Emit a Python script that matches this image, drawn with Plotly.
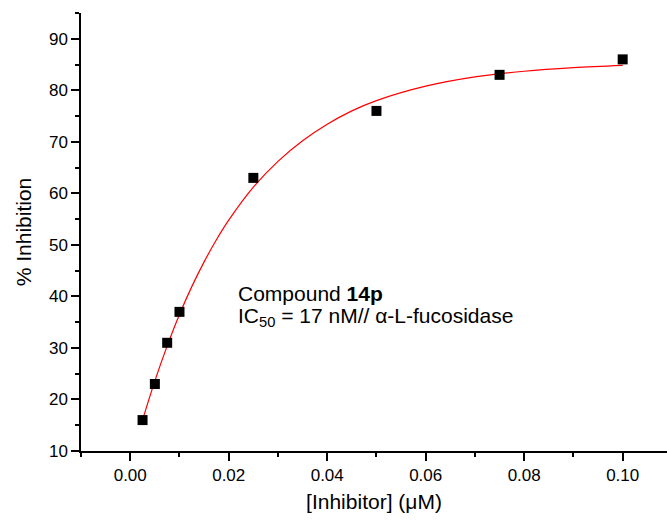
import plotly.graph_objects as go

# measured data
conc = [0.0025, 0.005, 0.0075, 0.01, 0.025, 0.05, 0.075, 0.1]
inhib = [16, 23, 31, 37, 63, 76, 83, 86]

# fitted curve
fit_x = [0.0025, 0.005, 0.0075, 0.01, 0.0125, 0.015, 0.0175, 0.02, 0.025, 0.03,
         0.035, 0.04, 0.045, 0.05, 0.06, 0.07, 0.08, 0.09, 0.1]
fit_y = [16.0, 23.6, 30.4, 36.5, 41.9, 46.7, 51.0, 54.8, 61.2, 66.2,
         70.2, 73.4, 76.0, 78.0, 80.8, 82.6, 83.7, 84.4, 84.85]

x_ticks = [0.00, 0.02, 0.04, 0.06, 0.08, 0.10]
x_ticklabels = ["0.00", "0.02", "0.04", "0.06", "0.08", "0.10"]
y_ticks = [10, 20, 30, 40, 50, 60, 70, 80, 90]

FONT = "Liberation Sans, Arial, sans-serif"

fig = go.Figure()
fig.add_trace(go.Scatter(x=fit_x, y=fit_y, mode="lines", line=dict(color="red", width=1.2, shape="spline"),
                         hoverinfo="skip", showlegend=False))
fig.add_trace(go.Scatter(x=conc, y=inhib, mode="markers",
                         marker=dict(symbol="square", size=10, color="black", line=dict(width=0)),
                         showlegend=False))

fig.add_annotation(x=0.0215, y=40.6, xref="x", yref="y", xanchor="left", yanchor="middle",
                   text="Compound <b>14p</b>", showarrow=False,
                   font=dict(family=FONT, size=21, color="black"))
fig.add_annotation(x=0.0215, y=36.1, xref="x", yref="y", xanchor="left", yanchor="middle",
                   text="IC<sub>50</sub> = 17 nM// α-L-fucosidase", showarrow=False,
                   font=dict(family=FONT, size=21, color="black"))

axis_common = dict(showline=True, linecolor="black", linewidth=1.5, ticks="outside",
                   ticklen=8, tickwidth=1.5, tickcolor="black", showgrid=False, zeroline=False,
                   tickfont=dict(family=FONT, size=17, color="black"),
                   title_font=dict(family=FONT, size=21, color="black"))

fig.update_xaxes(range=[-0.01, 0.109], tickvals=x_ticks, ticktext=x_ticklabels,
                 minor=dict(ticks="outside", ticklen=4, tickwidth=1.5, dtick=0.01, tick0=-0.01, tickcolor="black"),
                 title_text="[Inhibitor] (μM)", title_standoff=10, **axis_common)
fig.update_yaxes(range=[10, 95], tickvals=y_ticks,
                 minor=dict(ticks="outside", ticklen=4, tickwidth=1.5, dtick=5, tick0=10, tickcolor="black"),
                 title_text="% Inhibition", title_standoff=12, **axis_common)

fig.update_layout(width=667, height=523, margin=dict(l=81, r=0, t=13, b=72),
                  plot_bgcolor="white", paper_bgcolor="white")

fig.write_html("out.html")
